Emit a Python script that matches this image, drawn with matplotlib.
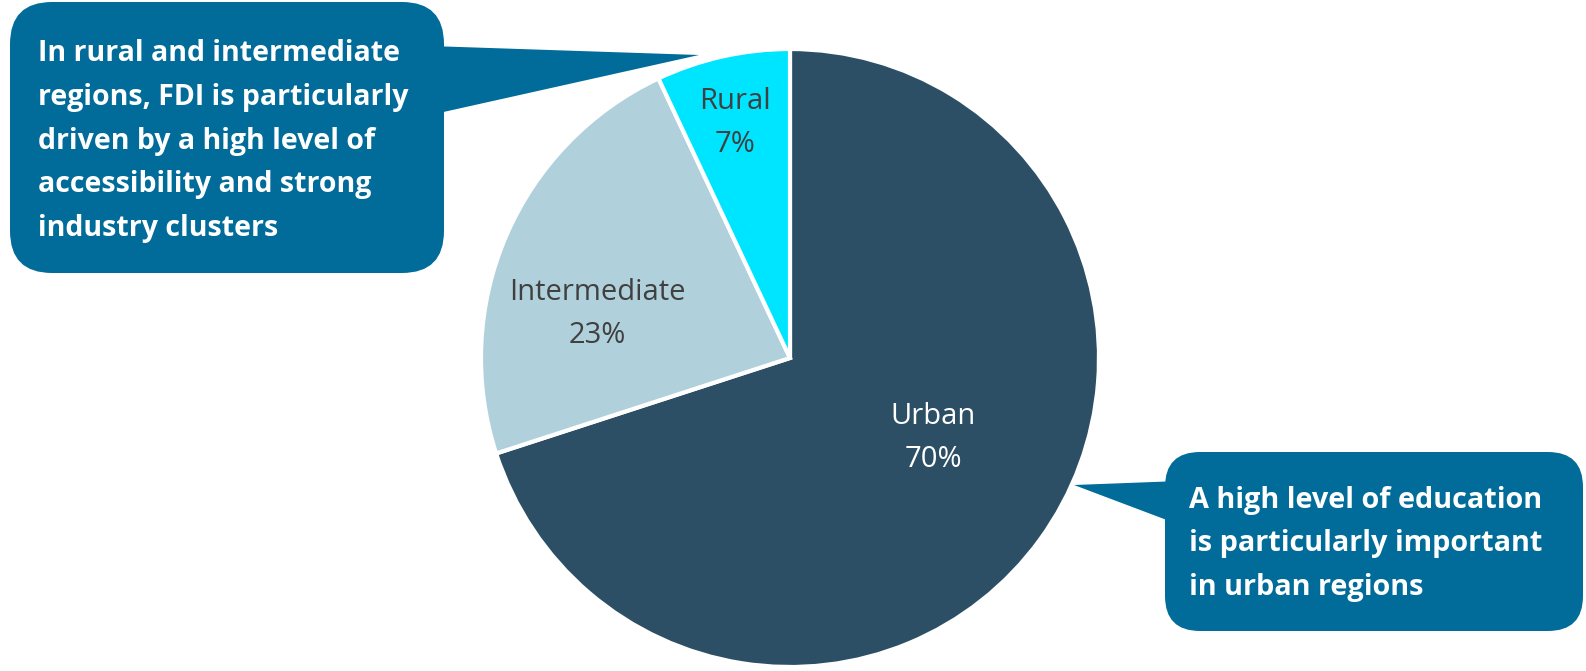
import matplotlib
matplotlib.use("Agg")
import matplotlib.pyplot as plt
from matplotlib.patches import FancyBboxPatch, Polygon

# data
regions = ["Urban", "Intermediate", "Rural"]
shares = [70, 23, 7]
colors = ["#2D4F66", "#B0D0DB", "#00E5FF"]

note_left = ("In rural and intermediate\nregions, FDI is particularly\n"
             "driven by a high level of\naccessibility and strong\nindustry clusters")
note_right = "A high level of education\nis particularly important\nin urban regions"

W, H = 1586, 671
plt.rcParams['font.family'] = ['Open Sans', 'DejaVu Sans']

fig = plt.figure(figsize=(W / 100, H / 100), dpi=100)
ax = fig.add_axes([0, 0, 1, 1])

# pie, in pixel coordinates (y flipped so 0 is bottom)
cx, cy, r = 790, H - 358, 309
wedges, _ = ax.pie(shares, colors=colors, startangle=90, counterclock=False,
                   center=(cx, cy), radius=r, frame=True,
                   wedgeprops=dict(edgecolor="white", linewidth=3))

# labels (pixel positions from top-left)
label_pos = {"Urban": (933, 438), "Intermediate": (597, 314), "Rural": (735, 123)}
label_col = {"Urban": "white", "Intermediate": "#404040", "Rural": "#404040"}
for name, val in zip(regions, shares):
    x, y = label_pos[name]
    ax.text(x, H - y, f"{name}\n{val}%", ha="center", va="center", fontsize=21,
            color=label_col[name], linespacing=1.62)

box_col = "#016C99"

def callout(x0, y0, x1, y1, tail, rad):
    ax.add_patch(FancyBboxPatch((x0 + rad, H - y1 + rad), x1 - x0 - 2 * rad, y1 - y0 - 2 * rad,
                                boxstyle=f"round,pad={rad}", fc=box_col, ec="none", zorder=3))
    ax.add_patch(Polygon([(px, H - py) for px, py in tail], closed=True,
                         fc=box_col, ec="none", zorder=3))

callout(10, 2, 444, 273, [(430, 46), (699, 55), (430, 115)], 42)
callout(1165, 452, 1583, 631, [(1180, 481), (1074, 485), (1180, 525)], 35)

ax.text(38, H - 141, note_left, ha="left", va="center", fontsize=20.5, color="white",
        fontweight="bold", linespacing=1.68, zorder=4)
ax.text(1189, H - 544, note_right, ha="left", va="center", fontsize=20.8, color="white",
        fontweight="bold", linespacing=1.68, zorder=4)

ax.set_xlim(0, W)
ax.set_ylim(0, H)
ax.set_aspect("equal")
ax.axis("off")

fig.savefig("out.png", dpi=100)
